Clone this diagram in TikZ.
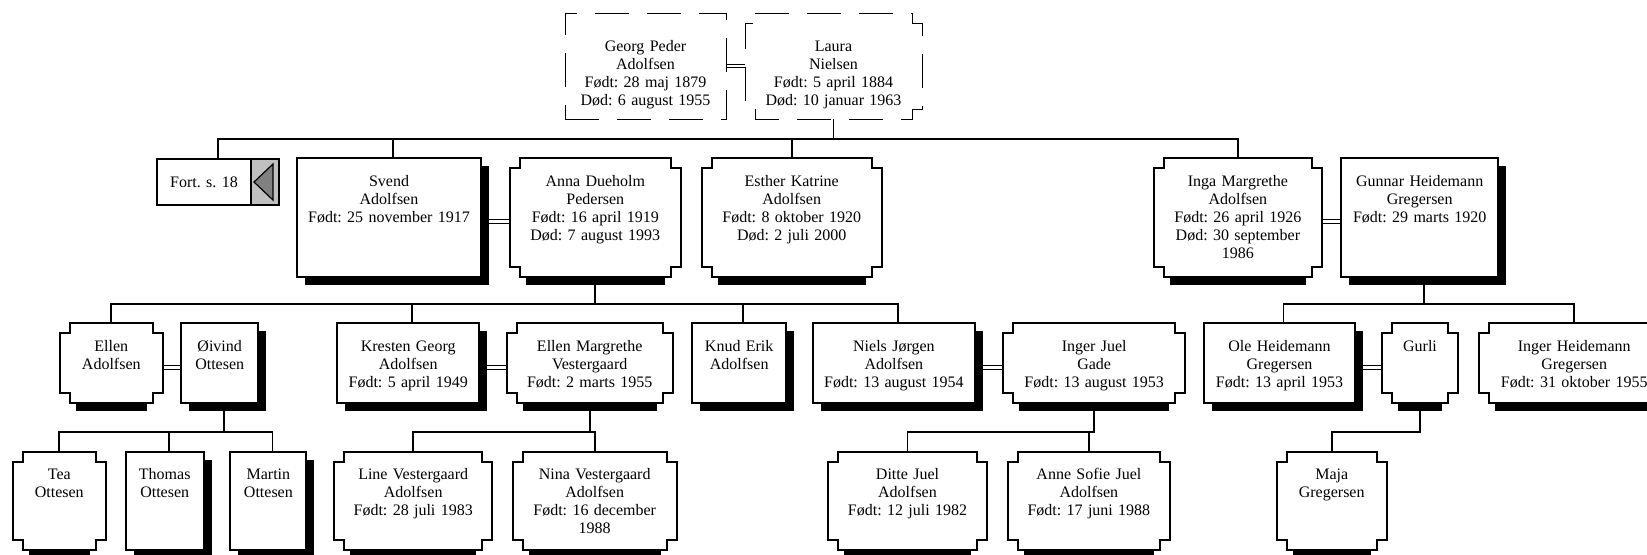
\documentclass[tikz,border=0pt]{standalone}
\usepackage{fontspec}
\setmainfont{Liberation Serif}
\usetikzlibrary{shadows, backgrounds}

\definecolor{tabgrey}{RGB}{192,192,192}
\definecolor{arrowgrey}{RGB}{128,128,128}

% outline with cut-in corners round a node
\newcommand{\notchbox}[2]{%
  \draw[#2] ([shift={(10,0)}]#1.north west) -- ([shift={(-10,0)}]#1.north east)
    -- ([shift={(-10,10)}]#1.north east) -- ([shift={(0,10)}]#1.north east)
    -- ([shift={(0,-10)}]#1.south east) -- ([shift={(-10,-10)}]#1.south east)
    -- ([shift={(-10,0)}]#1.south east) -- ([shift={(10,0)}]#1.south west)
    -- ([shift={(10,-10)}]#1.south west) -- ([shift={(0,-10)}]#1.south west)
    -- ([shift={(0,10)}]#1.north west) -- ([shift={(10,10)}]#1.north west) -- cycle;}

\begin{document}
\frenchspacing
\begin{tikzpicture}[x=0.5pt, y=-0.5pt,
    every node/.style={font=\fontsize{8pt}{9pt}\selectfont\frenchspacing, inner sep=0pt, outer sep=0pt, align=center},
    male/.style={draw, line width=1pt, fill=white,
      drop shadow={shadow xshift=4pt, shadow yshift=-4pt, fill=black, opacity=1}},
    female/.style={append after command={\pgfextra{%
      \fill ([shift={(16,0)}]\tikzlastnode.south west) rectangle ([shift={(-16,8)}]\tikzlastnode.south east);
      \notchbox{\tikzlastnode}{line width=1pt}}}},
    oldmale/.style={draw, line width=0.5pt, dash pattern=on 17pt off 9pt},
    oldfemale/.style={append after command={\pgfextra{%
      \notchbox{\tikzlastnode}{line width=0.5pt, dash pattern=on 17pt off 9pt}}}},
    gen1/.style={anchor=north, text height=19pt, text depth=34pt},
    gen2/.style={anchor=north, text height=14pt, text depth=45.5pt},
    gen3/.style={anchor=north, text height=14pt, text depth=26pt},
    gen4/.style={anchor=north, text height=14pt, text depth=35pt},
    link/.style={line width=0.9pt},
    marry/.style={line width=0.5pt, double, double distance=1.4pt}
]
    \useasboundingbox (0,0) rectangle (1647,554);
    \clip (0,0) rectangle (1647,554);

    % generation 1
    \node[oldmale, gen1, text width=80.5pt] (georg) at (645.5,13) {Georg Peder\\Adolfsen\\Født: 28 maj 1879\\Død: 6 august 1955};
    \node[oldfemale, gen1, text width=88.5pt] (laura) at (833.5,13) {Laura\\Nielsen\\Født: 5 april 1884\\Død: 10 januar 1963};

    % generation 2
    \node[draw, line width=1pt, fill=white, anchor=north, text width=47pt, minimum height=23pt] (fort) at (204,159) {Fort. s. 18};
    \draw[line width=1pt, fill=tabgrey] (fort.north east) rectangle ([xshift=14pt]fort.south east);
    \draw[line width=0.6pt, fill=arrowgrey] ([shift={(3,0)}]fort.east) -- ([shift={(22,-18)}]fort.east) -- ([shift={(22,18)}]fort.east) -- cycle;
    \node[male, gen2, text width=92pt] (svend) at (389,158) {Svend\\Adolfsen\\Født: 25 november 1917};
    \node[female, gen2, text width=85.7pt] (anna) at (595.3,158) {Anna Dueholm\\Pedersen\\Født: 16 april 1919\\Død: 7 august 1993};
    \node[female, gen2, text width=90pt] (esther) at (791.7,158) {Esther Katrine\\Adolfsen\\Født: 8 oktober 1920\\Død: 2 juli 2000};
    \node[female, gen2, text width=83.9pt] (inga) at (1237.9,158) {Inga Margrethe\\Adolfsen\\Født: 26 april 1926\\Død: 30 september\\1986};
    \node[male, gen2, text width=78.7pt] (gunnar) at (1419.7,158) {Gunnar Heidemann\\Gregersen\\Født: 29 marts 1920};

    % generation 3
    \node[female, gen3, text width=51.25pt] (ellen) at (111.3,323.3) {Ellen\\Adolfsen};
    \node[male, gen3, text width=38.25pt] (oivind) at (219.7,323.3) {Øivind\\Ottesen};
    \node[male, gen3, text width=70.85pt] (kresten) at (408.2,323.3) {Kresten Georg\\Adolfsen\\Født: 5 april 1949};
    \node[female, gen3, text width=83pt] (ellenm) at (589.7,323.3) {Ellen Margrethe\\Vestergaard\\Født: 2 marts 1955};
    \node[male, gen3, text width=46.85pt] (knud) at (739.2,323.3) {Knud Erik\\Adolfsen};
    \node[male, gen3, text width=81.15pt] (niels) at (893.9,323.3) {Niels Jørgen\\Adolfsen\\Født: 13 august 1954};
    \node[female, gen3, text width=90.85pt] (ingerj) at (1094.2,323.3) {Inger Juel\\Gade\\Født: 13 august 1953};
    \node[male, gen3, text width=75.5pt] (ole) at (1279.5,323.3) {Ole Heidemann\\Gregersen\\Født: 13 april 1953};
    \node[female, gen3, text width=38.3pt] (gurli) at (1420,323.3) {Gurli};
    \node[female, gen3, text width=94.85pt] (ingerh) at (1574.2,323.3) {Inger Heidemann\\Gregersen\\Født: 31 oktober 1955};

    % generation 4
    \node[female, gen4, text width=46.75pt] (tea) at (59.3,451.7) {Tea\\Ottesen};
    \node[male, gen4, text width=39pt] (thomas) at (164.7,451.7) {Thomas\\Ottesen};
    \node[male, gen4, text width=38pt] (martin) at (268.4,451.7) {Martin\\Ottesen};
    \node[female, gen4, text width=79.15pt] (line) at (413.2,451.7) {Line Vestergaard\\Adolfsen\\Født: 28 juli 1983};
    \node[female, gen4, text width=82pt] (nina) at (594.7,451.7) {Nina Vestergaard\\Adolfsen\\Født: 16 december\\1988};
    \node[female, gen4, text width=79.2pt] (ditte) at (907.5,451.7) {Ditte Juel\\Adolfsen\\Født: 12 juli 1982};
    \node[female, gen4, text width=81.15pt] (annes) at (1088.9,451.7) {Anne Sofie Juel\\Adolfsen\\Født: 17 juni 1988};
    \node[female, gen4, text width=55pt] (maja) at (1331.7,451.7) {Maja\\Gregersen};

    \begin{scope}[on background layer]
    % marriages
    \draw[marry] (georg.east) -- (laura.west);
    \draw[marry] ([yshift=-2pt]svend.east) -- ([yshift=-2pt]anna.west);
    \draw[marry] ([yshift=-2pt]inga.east) -- ([yshift=-2pt]gunnar.west);
    \draw[marry] ([yshift=-2pt]ellen.east) -- ([yshift=-2pt]oivind.west);
    \draw[marry] ([yshift=-2pt]kresten.east) -- ([yshift=-2pt]ellenm.west);
    \draw[marry] ([yshift=-2pt]niels.east) -- ([yshift=-2pt]ingerj.west);
    \draw[marry] ([yshift=-2pt]ole.east) -- ([yshift=-2pt]gurli.west);

    % children
    \draw[link] (laura.south) -- ++(0,20) -| ([xshift=7pt]fort.north);
    \draw[link] (laura.south) ++(0,20) -| ([xshift=2pt]svend.north);
    \draw[link] (laura.south) ++(0,20) -| (esther.north);
    \draw[link] (laura.south) ++(0,20) -| (inga.north);

    \draw[link] (anna.south) -- ++(0,27) -| (ellen.north);
    \draw[link] (anna.south) ++(0,27) -| ([xshift=2pt]kresten.north);
    \draw[link] (anna.south) ++(0,27) -| ([xshift=2pt]knud.north);
    \draw[link] (anna.south) ++(0,27) -| ([xshift=2pt]niels.north);

    \draw[link] ([xshift=2pt]gunnar.south) -- ++(0,27) -| ([xshift=2pt]ole.north);
    \draw[link] ([xshift=2pt]gunnar.south) ++(0,27) -| (ingerh.north);

    \draw[link] ([xshift=2pt]oivind.south) -- ++(0,28.5) -| (tea.north);
    \draw[link] ([xshift=2pt]oivind.south) ++(0,28.5) -| ([xshift=2pt]thomas.north);
    \draw[link] ([xshift=2pt]oivind.south) ++(0,28.5) -| ([xshift=2pt]martin.north);

    \draw[link] (ellenm.south) -- ++(0,28.5) -| (line.north);
    \draw[link] (ellenm.south) ++(0,28.5) -| (nina.north);

    \draw[link] (ingerj.south) -- ++(0,28.5) -| (ditte.north);
    \draw[link] (ingerj.south) ++(0,28.5) -| (annes.north);

    \draw[link] (gurli.south) -- ++(0,28.5) -| (maja.north);
    \end{scope}
\end{tikzpicture}
\end{document}
